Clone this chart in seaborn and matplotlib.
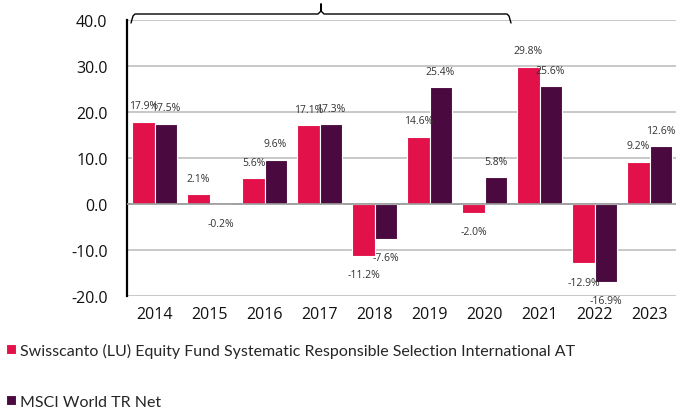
import pandas as pd
import matplotlib
matplotlib.use('Agg')
import matplotlib.pyplot as plt
import seaborn as sns

years = ['2014', '2015', '2016', '2017', '2018', '2019', '2020', '2021', '2022', '2023']
fund = [17.9, 2.1, 5.6, 17.1, -11.2, 14.6, -2.0, 29.8, -12.9, 9.2]
msci = [17.5, -0.2, 9.6, 17.3, -7.6, 25.4, 5.8, 25.6, -16.9, 12.6]
series = ['Swisscanto (LU) Equity Fund Systematic Responsible Selection International AT',
          'MSCI World TR Net']
colors = ['#E2114A', '#4A0A3F']

df = pd.DataFrame({
    'year': years * 2,
    'value': fund + msci,
    'series': [series[0]] * len(years) + [series[1]] * len(years),
})

sns.set_style('white')
plt.rcParams['font.family'] = ['Open Sans', 'DejaVu Sans']

fig = plt.figure(figsize=(6.76, 4.14), dpi=100)
ax = fig.add_axes([127 / 676, 1 - 297 / 414, 550 / 676, 276 / 414])

sns.barplot(data=df, x='year', y='value', hue='series', palette=colors, saturation=1,
            width=0.82, edgecolor='white', linewidth=0.8, ax=ax, zorder=3)

ax.set_ylim(-20, 40)
ax.set_xlim(-0.5, 9.5)
ax.set_yticks(range(-20, 41, 10))
ax.set_yticklabels([f'{v:.1f}' for v in range(-20, 41, 10)])
ax.tick_params(axis='both', labelsize=11.5, colors='#111111', length=0)
ax.tick_params(axis='y', pad=14)
ax.tick_params(axis='x', pad=7)
ax.set_xlabel('')
ax.set_ylabel('')
ax.grid(axis='y', color='#BFBFBF', linewidth=1.2, zorder=0)
ax.axhline(0, color='#9A9A9A', linewidth=1.2, zorder=4)
for s in ['top', 'right', 'bottom']:
    ax.spines[s].set_visible(False)
ax.spines['left'].set_color('black')
ax.spines['left'].set_linewidth(1.6)

# value labels
for i, (a, b) in enumerate(zip(fund, msci)):
    for off, v in [(-0.2, a), (0.2, b)]:
        dy = 11.5 if v >= 0 else -13.5
        ax.annotate(f'{v:.1f}%', (i + off, v), xytext=(0, dy), textcoords='offset points',
                    ha='center', va='center', fontsize=7.5, color='#333333', zorder=5)

# brace at the top
def px(x, y):
    return x / 676, 1 - y / 414

bx = [131, 133, 135, 318, 321, 321, 321, 324, 507, 509, 511]
by = [24, 17, 15, 15, 12, 5, 12, 15, 15, 17, 24]
pts = [px(x, y) for x, y in zip(bx, by)]
fig.add_artist(plt.Line2D([p[0] for p in pts], [p[1] for p in pts],
                          color='black', linewidth=1.0, transform=fig.transFigure))

handles, labels = ax.get_legend_handles_labels()
ax.legend_.remove()
fig.legend(handles, labels, loc='upper left', bbox_to_anchor=(0.0, 0.185),
           frameon=False, handlelength=0.6, handleheight=0.6,
           handletextpad=0.25, labelspacing=2.3, borderaxespad=0,
           prop={'family': ['Lato', 'Open Sans'], 'size': 11.5})

fig.savefig('out.png', dpi=100)
